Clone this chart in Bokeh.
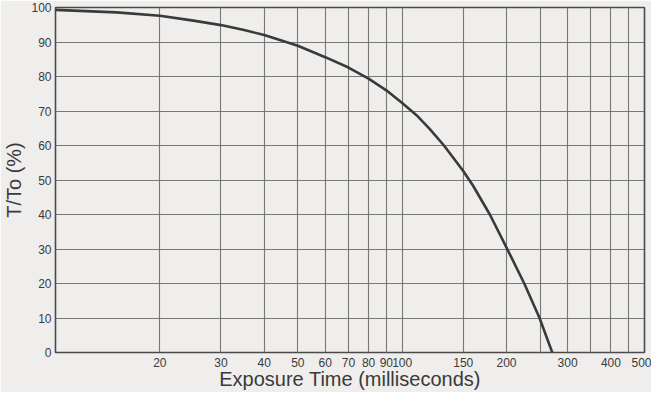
from bokeh.plotting import figure
from bokeh.models import FixedTicker, Range1d
from bokeh.embed import file_html
from bokeh.resources import INLINE

# Data
exposure_ms = [10, 15, 20, 25, 30, 35, 40, 50, 60, 70, 80, 90, 100, 110, 120, 132, 150, 160, 179, 200, 225, 249, 271]
t_over_t0 = [99.3, 98.6, 97.6, 96.2, 94.9, 93.5, 92.0, 88.9, 85.6, 82.6, 79.4, 76.0, 72.3, 68.8, 64.8, 60.0, 52.6, 48.4, 40.0, 30.4, 20.0, 10.0, 0.0]

x_ticks = [20, 30, 40, 50, 60, 70, 80, 90, 100, 150, 200, 250, 300, 350, 400, 450, 500]
x_unlabeled = [250, 350, 450]
y_ticks = [0, 10, 20, 30, 40, 50, 60, 70, 80, 90, 100]

paper = "#efeeec"
ink = "#3a3a3a"
grid = "#6a6a6a"
font = "Liberation Sans"

p = figure(width=651, height=392, x_axis_type="log", output_backend="svg",
           toolbar_location=None, x_range=Range1d(10, 500), y_range=Range1d(0, 100),
           min_border_left=53, min_border_right=7, min_border_top=7, min_border_bottom=38)

p.background_fill_color = paper
p.border_fill_color = paper
p.outline_line_color = "#4a4a4a"
p.outline_line_width = 1.6

p.line(exposure_ms, t_over_t0, line_color=ink, line_width=2.6, line_join="round")

p.xaxis.ticker = FixedTicker(ticks=x_ticks, minor_ticks=[])
p.xaxis.major_label_overrides = {v: "" for v in x_unlabeled}
p.yaxis.ticker = FixedTicker(ticks=y_ticks, minor_ticks=[])

for ax in (p.xaxis[0], p.yaxis[0]):
    ax.axis_line_color = None
    ax.major_tick_out = 0
    ax.major_tick_in = 0
    ax.minor_tick_out = 0
    ax.minor_tick_in = 0
    ax.major_label_text_font = font
    ax.major_label_text_font_size = "12px"
    ax.major_label_text_color = ink
    ax.axis_label_text_font = font
    ax.axis_label_text_font_size = "20px"
    ax.axis_label_text_font_style = "normal"
    ax.axis_label_text_color = ink

p.xaxis.axis_label = "Exposure Time (milliseconds)"
p.yaxis.axis_label = "T/To (%)"
p.xaxis.major_label_standoff = 5
p.xaxis.axis_label_standoff = -2
p.yaxis.major_label_standoff = 4
p.yaxis.axis_label_standoff = 3

p.xgrid.grid_line_color = grid
p.ygrid.grid_line_color = grid
p.xgrid.grid_line_width = 1.1
p.ygrid.grid_line_width = 1.1
p.xgrid.grid_line_alpha = 0.9
p.ygrid.grid_line_alpha = 0.9

open("out.html", "w").write(file_html(p, INLINE))
